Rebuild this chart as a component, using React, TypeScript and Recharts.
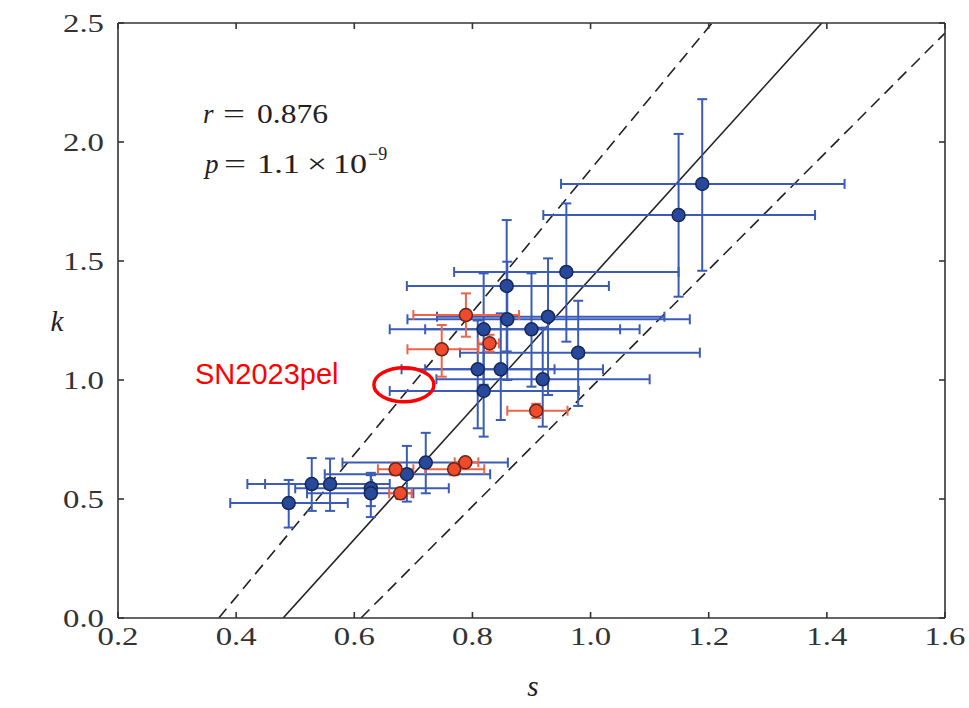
import React from "react";
import {
  ScatterChart,
  Scatter,
  XAxis,
  YAxis,
  ErrorBar,
  ReferenceLine,
  ReferenceDot,
} from "recharts";

const sTicks = [0.2, 0.4, 0.6, 0.8, 1.0, 1.2, 1.4, 1.6];
const kTicks = [0, 0.5, 1.0, 1.5, 2.0, 2.5];

// blue sample: centre values and error-bar ends
const blueS = [0.489, 0.528, 0.559, 0.628, 0.628, 0.689, 0.721, 0.809, 0.819, 0.848, 0.919, 0.819, 0.9, 0.859, 0.928, 0.858, 0.959, 0.979, 1.149, 1.189];
const blueK = [0.483, 0.563, 0.563, 0.545, 0.524, 0.604, 0.653, 1.045, 0.954, 1.045, 1.003, 1.213, 1.213, 1.255, 1.266, 1.395, 1.454, 1.115, 1.693, 1.824];
const blueSLow = [0.39, 0.419, 0.449, 0.5, 0.52, 0.55, 0.58, 0.68, 0.66, 0.72, 0.739, 0.66, 0.72, 0.69, 0.74, 0.689, 0.769, 0.779, 0.92, 0.95];
const blueSHigh = [0.589, 0.63, 0.66, 0.76, 0.7, 0.83, 0.86, 0.939, 0.98, 1.021, 1.1, 1.083, 1.05, 1.168, 1.125, 1.031, 1.149, 1.185, 1.38, 1.43];
const blueKLow = [0.38, 0.45, 0.45, 0.47, 0.424, 0.489, 0.524, 0.797, 0.762, 0.832, 0.804, 0.98, 0.972, 1.0, 0.937, 1.12, 1.161, 0.891, 1.35, 1.459];
const blueKHigh = [0.58, 0.672, 0.67, 0.61, 0.6, 0.723, 0.778, 1.25, 1.15, 1.28, 1.22, 1.448, 1.448, 1.497, 1.511, 1.672, 1.742, 1.333, 2.034, 2.18];

// red sample
const redS = [0.789, 0.748, 0.829, 0.908, 0.67, 0.678, 0.769, 0.788];
const redK = [1.273, 1.129, 1.154, 0.871, 0.625, 0.524, 0.625, 0.654];
const redSLow = [0.7, 0.69, 0.81, 0.859, 0.64, 0.659, 0.72, 0.77];
const redSHigh = [0.879, 0.81, 0.845, 0.961, 0.7, 0.697, 0.82, 0.81];
const redKLow = [1.182, 1.014, 1.12, 0.84, 0.6, 0.5, 0.6, 0.64];
const redKHigh = [1.364, 1.231, 1.19, 0.9, 0.65, 0.545, 0.65, 0.67];

// fit line and band edges, [s, k] end points
const fitLine = [[0.4795, 0], [1.3915, 2.5]];
const upperBand = [[0.3706, 0], [1.2058, 2.5]];
const lowerBand = [[0.6113, 0], [1.6, 2.458]];

const markedPoint = [0.684, 0.98];

const toRows = (s: number[], k: number[], sLo: number[], sHi: number[], kLo: number[], kHi: number[]) =>
  s.map((v, i) => ({
    s: v,
    k: k[i],
    sErr: [v - sLo[i], sHi[i] - v],
    kErr: [k[i] - kLo[i], kHi[i] - k[i]],
  }));

const blueRows = toRows(blueS, blueK, blueSLow, blueSHigh, blueKLow, blueKHigh);
const redRows = toRows(redS, redK, redSLow, redSHigh, redKLow, redKHigh);

const serif = "'Liberation Serif', 'DejaVu Serif', serif";
const frame = "#333";
const blueBar = "#3a5cb8";
const redBar = "#ee6448";

const XTick = (props: any) => {
  const { x, y, payload } = props;
  return (
    <text x={x} y={y + 19} textAnchor="middle" fontFamily={serif} fontSize={26} fill="#333"
      textLength={41} lengthAdjust="spacingAndGlyphs">
      {Number(payload.value).toFixed(1)}
    </text>
  );
};

const YTick = (props: any) => {
  const { x, y, payload } = props;
  return (
    <text x={x} y={y + 9} textAnchor="end" fontFamily={serif} fontSize={26} fill="#333"
      textLength={41} lengthAdjust="spacingAndGlyphs">
      {Number(payload.value).toFixed(1)}
    </text>
  );
};

const dot = (fill: string, edge: string) => (p: any) => (
  <circle cx={p.cx} cy={p.cy} r={6.5} fill={fill} stroke={edge} strokeWidth={1.5} />
);

const noDot = () => <g />;

const seg = (pts: number[][]) => [
  { x: pts[0][0], y: pts[0][1] },
  { x: pts[1][0], y: pts[1][1] },
];

export default function App() {
  const axisLine = { stroke: frame, strokeWidth: 1.6 };
  return (
    <div style={{ position: "relative", width: 969, height: 708 }}>
      <style>{"body{margin:0;overflow:hidden}"}</style>
      <ScatterChart width={969} height={708} margin={{ top: 22, right: 23, left: 38, bottom: 30 }}>
        <XAxis type="number" dataKey="s" domain={[0.2, 1.6]} ticks={sTicks} allowDataOverflow
          height={60} tickSize={-6} tickMargin={14} tick={<XTick />} axisLine={axisLine} tickLine={axisLine} />
        <XAxis xAxisId="top" orientation="top" type="number" dataKey="s" domain={[0.2, 1.6]} ticks={sTicks} allowDataOverflow
          height={1} tickSize={-6} tickFormatter={() => ""} axisLine={axisLine} tickLine={axisLine} />
        <YAxis type="number" dataKey="k" domain={[0, 2.5]} ticks={kTicks} allowDataOverflow
          width={80} tickSize={-6} tickMargin={20} tick={<YTick />} axisLine={axisLine} tickLine={axisLine} />
        <YAxis yAxisId="right" orientation="right" type="number" dataKey="k" domain={[0, 2.5]} ticks={kTicks} allowDataOverflow
          width={1} tickSize={-6} tickFormatter={() => ""} axisLine={axisLine} tickLine={axisLine} />

        <ReferenceLine segment={seg(upperBand)} stroke="#222" strokeWidth={1.6} strokeDasharray="12 7" ifOverflow="hidden" />
        <ReferenceLine segment={seg(lowerBand)} stroke="#222" strokeWidth={1.6} strokeDasharray="12 7" ifOverflow="hidden" />
        <ReferenceLine segment={seg(fitLine)} stroke="#222" strokeWidth={1.6} ifOverflow="hidden" />

        {/* invisible series so the top and right frame axes are drawn */}
        <Scatter data={blueRows} xAxisId="top" yAxisId="right" isAnimationActive={false} shape={noDot} legendType="none" />

        <Scatter data={blueRows} isAnimationActive={false} shape={dot("#28489a", "#17285a")}>
          <ErrorBar dataKey="sErr" direction="x" width={5} stroke={blueBar} strokeWidth={2} />
          <ErrorBar dataKey="kErr" direction="y" width={5} stroke={blueBar} strokeWidth={2} />
        </Scatter>
        <Scatter data={redRows} isAnimationActive={false} shape={dot("#ee4a2c", "#6a2418")}>
          <ErrorBar dataKey="sErr" direction="x" width={5} stroke={redBar} strokeWidth={2} />
          <ErrorBar dataKey="kErr" direction="y" width={5} stroke={redBar} strokeWidth={2} />
        </Scatter>

        <ReferenceDot x={markedPoint[0]} y={markedPoint[1]} r={30}
          shape={(p: any) => (
            <ellipse cx={p.cx} cy={p.cy} rx={30} ry={17} fill="none" stroke="#ff0000" strokeWidth={3.5} />
          )} />
      </ScatterChart>

      <svg width={969} height={708} style={{ position: "absolute", left: 0, top: 0, pointerEvents: "none" }}>
        <g fontFamily={serif} fontSize={27} fill="#222">
          <text x={203} y={123} fontStyle="italic">r</text>
          <text x={223} y={123} textLength={22} lengthAdjust="spacingAndGlyphs">=</text>
          <text x={257} y={123} textLength={71} lengthAdjust="spacingAndGlyphs">0.876</text>
          <text x={205} y={173} fontStyle="italic">p</text>
          <text x={224} y={173} textLength={22} lengthAdjust="spacingAndGlyphs">=</text>
          <text x={257} y={173} textLength={43} lengthAdjust="spacingAndGlyphs">1.1</text>
          <text x={307} y={173} textLength={20} lengthAdjust="spacingAndGlyphs">×</text>
          <text x={333} y={173} textLength={34} lengthAdjust="spacingAndGlyphs">10</text>
          <text x={368} y={160} fontSize={18}>−9</text>
          <text x={57} y={331} fontStyle="italic" fontSize={29} textAnchor="middle">k</text>
          <text x={533} y={696} fontStyle="italic" fontSize={29} textAnchor="middle">s</text>
        </g>
        <text x={195} y={384} fontFamily="'Liberation Sans', Arial, sans-serif" fontSize={29} fill="#ff0000">
          SN2023pel
        </text>
      </svg>
    </div>
  );
}
